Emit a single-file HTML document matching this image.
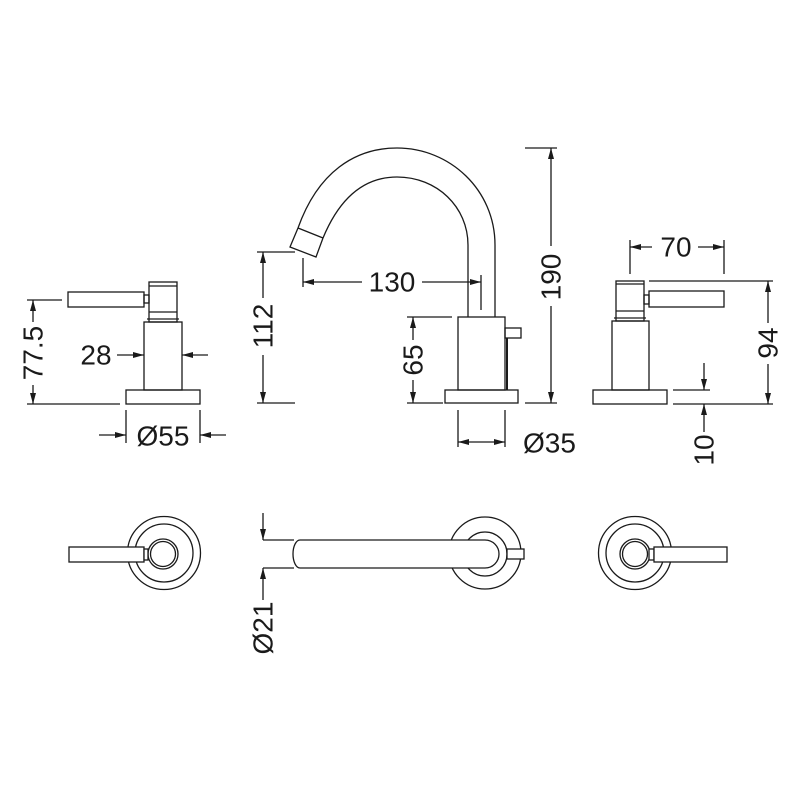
<!DOCTYPE html>
<html><head><meta charset="utf-8"><style>
html,body{margin:0;padding:0;background:#fff;}
svg{display:block;}
text{font-family:"Liberation Sans",sans-serif;font-size:28px;fill:#1a1a1a;}
</style></head><body>
<svg width="800" height="800" viewBox="0 0 800 800" xmlns="http://www.w3.org/2000/svg">
<defs>
<marker id="a" markerUnits="userSpaceOnUse" markerWidth="12" markerHeight="8" refX="11" refY="4" orient="auto">
<path d="M0,1 L11,4 L0,7 Z" fill="#1a1a1a"/>
</marker>
</defs>
<g fill="none" stroke="#1a1a1a" stroke-width="1.3">
<rect x="68" y="292" width="76" height="15"/>
<rect x="144" y="295" width="5" height="8"/>
<rect x="149" y="282" width="28" height="40"/>
<line x1="149" y1="286" x2="177" y2="286"/>
<line x1="149" y1="312" x2="177" y2="312"/>
<line x1="147" y1="319" x2="179" y2="319"/>
<rect x="144" y="322" width="38" height="68"/>
<rect x="126" y="390" width="74" height="14"/>
<line x1="27" y1="300" x2="62" y2="300"/>
<line x1="27" y1="404" x2="120" y2="404"/>
<line x1="33" y1="322" x2="33" y2="300" marker-end="url(#a)"/>
<line x1="33" y1="385" x2="33" y2="404" marker-end="url(#a)"/>
<line x1="117" y1="355" x2="144" y2="355" marker-end="url(#a)"/>
<line x1="208" y1="355" x2="182" y2="355" marker-end="url(#a)"/>
<line x1="126" y1="410" x2="126" y2="443"/>
<line x1="200" y1="410" x2="200" y2="443"/>
<line x1="99" y1="435" x2="126" y2="435" marker-end="url(#a)"/>
<line x1="226" y1="435" x2="200" y2="435" marker-end="url(#a)"/>

<path d="M298,228 C318,172 355,148 397,148 C450,148 495,190 495,245 L495,317"/>
<path d="M323,238 C340,197 365,177 397,177 C437,177 468,207 468,245 L468,317"/>
<path d="M298,228 L290,247 L316,257 L323,238"/>
<line x1="298" y1="228" x2="323" y2="238"/>
<rect x="458" y="317" width="47" height="73"/>
<line x1="507" y1="338" x2="507" y2="390" stroke-width="2"/>
<rect x="505" y="328" width="16" height="10"/>
<rect x="445" y="390" width="73" height="13"/>
<line x1="303" y1="258" x2="303" y2="287"/>
<line x1="481" y1="275" x2="481" y2="310"/>
<line x1="362" y1="282" x2="303" y2="282" marker-end="url(#a)"/>
<line x1="422" y1="282" x2="481" y2="282" marker-end="url(#a)"/>
<line x1="257" y1="252" x2="295" y2="252"/>
<line x1="257" y1="403" x2="295" y2="403"/>
<line x1="263" y1="298" x2="263" y2="252" marker-end="url(#a)"/>
<line x1="263" y1="355" x2="263" y2="403" marker-end="url(#a)"/>
<line x1="407" y1="317" x2="452" y2="317"/>
<line x1="407" y1="403" x2="443" y2="403"/>
<line x1="413" y1="340" x2="413" y2="317" marker-end="url(#a)"/>
<line x1="413" y1="380" x2="413" y2="403" marker-end="url(#a)"/>
<line x1="525" y1="148" x2="557" y2="148"/>
<line x1="525" y1="403" x2="557" y2="403"/>
<line x1="551" y1="246" x2="551" y2="148" marker-end="url(#a)"/>
<line x1="551" y1="306" x2="551" y2="403" marker-end="url(#a)"/>
<line x1="458" y1="410" x2="458" y2="447"/>
<line x1="505" y1="410" x2="505" y2="447"/>
<line x1="481" y1="442" x2="458" y2="442" marker-end="url(#a)"/>
<line x1="481" y1="442" x2="505" y2="442" marker-end="url(#a)"/>

<rect x="616" y="281" width="28" height="40"/>
<line x1="616" y1="284" x2="644" y2="284"/>
<line x1="616" y1="311" x2="644" y2="311"/>
<line x1="614" y1="318" x2="646" y2="318"/>
<rect x="644" y="295" width="5" height="9"/>
<rect x="649" y="291" width="75" height="16"/>
<rect x="612" y="321" width="37" height="69"/>
<rect x="593" y="390" width="74" height="14"/>
<line x1="630" y1="240" x2="630" y2="274"/>
<line x1="724" y1="240" x2="724" y2="274"/>
<line x1="652" y1="247" x2="630" y2="247" marker-end="url(#a)"/>
<line x1="698" y1="247" x2="724" y2="247" marker-end="url(#a)"/>
<line x1="649" y1="281" x2="773" y2="281"/>
<line x1="673" y1="404" x2="773" y2="404"/>
<line x1="768" y1="323" x2="768" y2="281" marker-end="url(#a)"/>
<line x1="768" y1="364" x2="768" y2="404" marker-end="url(#a)"/>
<line x1="673" y1="390" x2="710" y2="390"/>
<line x1="704" y1="363" x2="704" y2="390" marker-end="url(#a)"/>
<line x1="704" y1="432" x2="704" y2="404" marker-end="url(#a)"/>

<circle cx="164" cy="553" r="36.5"/>
<circle cx="164" cy="553" r="29"/>
<circle cx="163" cy="554" r="15"/>
<circle cx="163" cy="554" r="12.5"/>
<rect x="69" y="547" width="75" height="15" fill="#fff"/>
<rect x="144" y="549" width="4" height="11" fill="#fff"/>

<circle cx="485" cy="553" r="36"/>
<circle cx="485" cy="554" r="22"/>
<rect x="507" y="549" width="17" height="10" fill="#fff"/>
<path d="M300,540 L485,540 A14,14 0 0 1 485,568 L300,568 A7,14 0 0 1 300,540 Z" fill="#fff"/>
<line x1="263" y1="513" x2="263" y2="540" marker-end="url(#a)"/>
<line x1="263" y1="600" x2="263" y2="568" marker-end="url(#a)"/>
<line x1="263" y1="540" x2="294" y2="540"/>
<line x1="263" y1="568" x2="294" y2="568"/>

<circle cx="635" cy="553" r="36.5"/>
<circle cx="635" cy="553" r="29"/>
<circle cx="635" cy="554" r="15"/>
<circle cx="635" cy="554" r="12.5"/>
<rect x="649" y="549" width="5" height="11" fill="#fff"/>
<rect x="654" y="547" width="73" height="15" fill="#fff"/>
</g>
<g>
<text x="0" y="0" text-anchor="middle" dominant-baseline="central" transform="translate(33,353) rotate(-90)">77.5</text>
<text x="96" y="355" text-anchor="middle" dominant-baseline="central">28</text>
<text x="163" y="436" text-anchor="middle" dominant-baseline="central">Ø55</text>
<text x="392" y="282" text-anchor="middle" dominant-baseline="central">130</text>
<text x="0" y="0" text-anchor="middle" dominant-baseline="central" transform="translate(263,326) rotate(-90)">112</text>
<text x="0" y="0" text-anchor="middle" dominant-baseline="central" transform="translate(413,360) rotate(-90)">65</text>
<text x="0" y="0" text-anchor="middle" dominant-baseline="central" transform="translate(551,277) rotate(-90)">190</text>
<text x="523" y="443" dominant-baseline="central">Ø35</text>
<text x="676" y="247" text-anchor="middle" dominant-baseline="central">70</text>
<text x="0" y="0" text-anchor="middle" dominant-baseline="central" transform="translate(768,343) rotate(-90)">94</text>
<text x="0" y="0" text-anchor="middle" dominant-baseline="central" transform="translate(704,450) rotate(-90)">10</text>
<text x="0" y="0" text-anchor="middle" dominant-baseline="central" transform="translate(263,628) rotate(-90)">Ø21</text>
</g>
</svg>
</body></html>
